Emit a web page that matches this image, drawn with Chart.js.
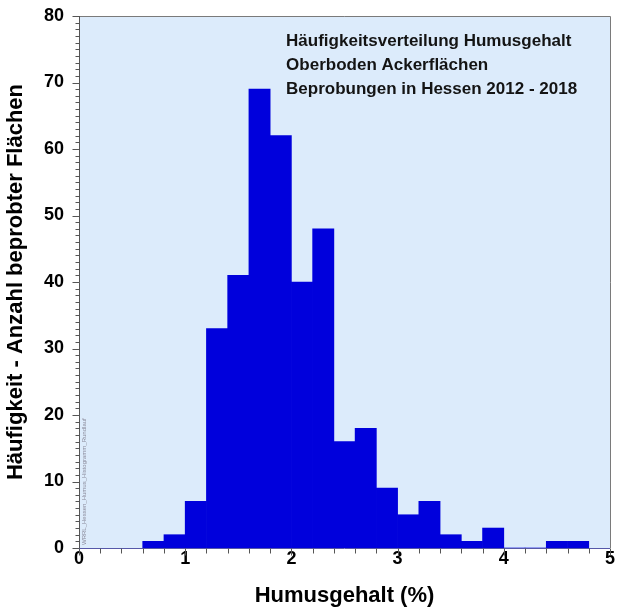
<!DOCTYPE html>
<html><head><meta charset="utf-8">
<script src="https://cdn.jsdelivr.net/npm/chart.js@4/dist/chart.umd.min.js"></script>
<style>html,body{margin:0;padding:0;background:#fff;}#wrap{width:617px;height:612px;}</style>
</head><body><div id="wrap"><canvas id="c" width="617" height="612"></canvas></div>
<script>
// ---- data ----
const binCenters = [0.7,0.9,1.1,1.3,1.5,1.7,1.9,2.1,2.3,2.5,2.7,2.9,3.1,3.3,3.5,3.7,3.9,4.1,4.3,4.5,4.7];
const counts     = [1,  2,  7,  33, 41, 69, 62, 40, 48, 16, 18, 9,  5,  7,  2,  1,  3,  0,  0,  1,  1];
const xTickValues = [0,1,2,3,4,5];
const yTickValues = [0,10,20,30,40,50,60,70,80];
const titleLines = ['Häufigkeitsverteilung Humusgehalt','Oberboden Ackerflächen','Beprobungen in Hessen 2012 - 2018'];
const xTitle = 'Humusgehalt (%)';
const yTitle = 'Häufigkeit - Anzahl beprobter Flächen';
const watermark = 'WRRL_Hessen_Humus_Histogramm_Rundlauf';

const FONT = "'Liberation Sans', Arial, sans-serif";

const deco = {
  id: 'deco',
  beforeDatasetsDraw(chart) {
    const {ctx, chartArea: a} = chart;
    ctx.save();
    ctx.fillStyle = '#dcebfb';
    ctx.fillRect(a.left, a.top, a.right - a.left, a.bottom - a.top);
    ctx.restore();
  },
  afterDatasetsDraw(chart) {
    const {ctx, chartArea: a, scales: {x, y}} = chart;
    ctx.save();
    ctx.lineWidth = 1;
    // frame top/right
    ctx.strokeStyle = '#7a7a7a';
    ctx.beginPath();
    ctx.moveTo(a.left, Math.round(a.top) + 0.5);
    ctx.lineTo(Math.round(a.right) + 0.5, Math.round(a.top) + 0.5);
    ctx.lineTo(Math.round(a.right) + 0.5, Math.round(a.bottom));
    ctx.stroke();
    // y axis line and ticks
    ctx.strokeStyle = '#555';
    const lx = Math.round(a.left) + 0.5;
    ctx.beginPath();
    ctx.moveTo(lx, a.top); ctx.lineTo(lx, a.bottom + 1);
    for (let v = 0; v <= 80; v++) {
      const py = Math.round(y.getPixelForValue(v)) + 0.5;
      const len = v % 10 === 0 ? 7 : 4;
      ctx.moveTo(lx - len, py); ctx.lineTo(lx, py);
    }
    ctx.stroke();
    // x axis line and ticks
    const by = Math.round(a.bottom) + 0.5;
    ctx.strokeStyle = '#5658a8';
    ctx.beginPath();
    ctx.moveTo(a.left, by); ctx.lineTo(a.right, by);
    ctx.stroke();
    ctx.strokeStyle = '#555';
    ctx.beginPath();
    for (let i = 0; i <= 25; i++) {
      const px = Math.round(x.getPixelForValue(i / 5)) + 0.5;
      const len = i % 5 === 0 ? 7 : 5;
      ctx.moveTo(px, by); ctx.lineTo(px, by + len);
    }
    ctx.stroke();
    // annotation text
    ctx.fillStyle = '#141414';
    ctx.font = 'bold 17px ' + FONT;
    ctx.textBaseline = 'middle';
    ctx.textAlign = 'left';
    const tx = x.getPixelForValue(1.95);
    titleLines.forEach((t, i) => ctx.fillText(t, tx, a.top + 25 + i * 24));
    // watermark
    ctx.save();
    ctx.translate(a.left + 5, a.bottom - 3);
    ctx.rotate(-Math.PI / 2);
    ctx.fillStyle = '#8c8c9c';
    ctx.font = '6px ' + FONT;
    ctx.textAlign = 'left';
    ctx.fillText(watermark, 0, 0);
    ctx.restore();
    ctx.restore();
  }
};

new Chart(document.getElementById('c'), {
  type: 'bar',
  data: {
    datasets: [{
      data: binCenters.map((c, i) => ({x: c, y: counts[i]})),
      backgroundColor: '#0000dc',
      borderWidth: 0,
      barPercentage: 1.0,
      categoryPercentage: 1.0
    }]
  },
  options: {
    responsive: false,
    animation: false,
    devicePixelRatio: 1,
    layout: {padding: {top: 16, right: 7, left: 0, bottom: 0}},
    plugins: {legend: {display: false}, tooltip: {enabled: false}},
    scales: {
      x: {
        type: 'linear', min: 0, max: 5, offset: false,
        afterFit: s => { s.height = 64; s.paddingLeft = 0; s.paddingRight = 0; },
        afterBuildTicks: s => { s.ticks = xTickValues.map(v => ({value: v})); },
        grid: {display: false, drawTicks: false, offset: false},
        border: {display: false},
        ticks: {color: '#000', padding: 0, font: {family: FONT, size: 18, weight: 'bold'}, maxRotation: 0},
        title: {display: true, text: xTitle, color: '#000', padding: {top: 0, bottom: 3}, font: {family: FONT, size: 22, weight: 'bold'}}
      },
      y: {
        min: 0, max: 80,
        afterFit: s => { s.width = 79; s.paddingTop = 0; s.paddingBottom = 0; },
        afterBuildTicks: s => { s.ticks = yTickValues.map(v => ({value: v})); },
        grid: {display: false, drawTicks: false},
        border: {display: false},
        ticks: {color: '#000', padding: 15, font: {family: FONT, size: 18, weight: 'bold'}},
        title: {display: true, text: yTitle, color: '#000', padding: {top: 3, bottom: 0}, font: {family: FONT, size: 22, weight: 'bold'}}
      }
    }
  },
  plugins: [deco]
});
</script></body></html>
